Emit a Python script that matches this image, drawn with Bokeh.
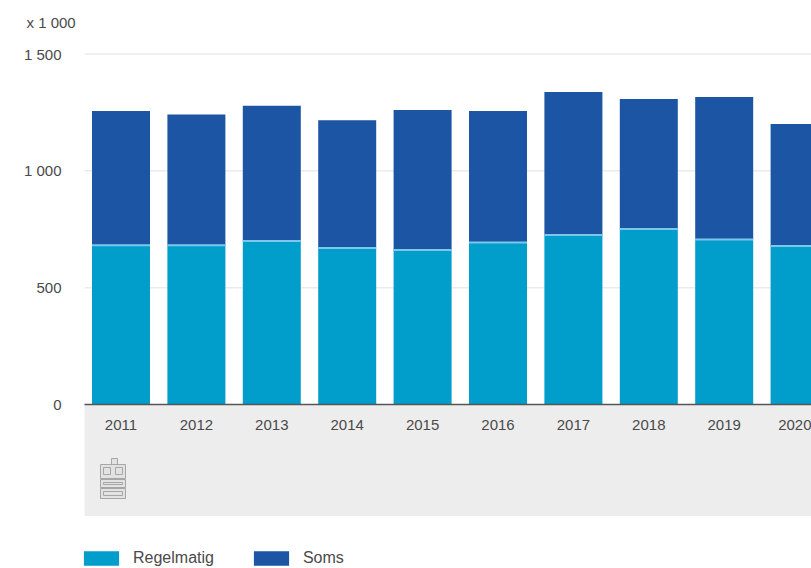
from bokeh.embed import file_html
from bokeh.models import BoxAnnotation, FixedTicker, Label, Legend, LegendItem, Range1d
from bokeh.plotting import figure
from bokeh.resources import INLINE

# Number of people (x 1 000) per year, split by how often they take part
years = [2011, 2012, 2013, 2014, 2015, 2016, 2017, 2018, 2019, 2020]
regelmatig = [682, 682, 700, 670, 661, 693, 725, 751, 706, 678]
soms = [574, 559, 579, 547, 599, 563, 612, 556, 610, 522]
y_ticks = [0, 500, 1000, 1500]
y_tick_labels = {0: "0", 500: "500", 1000: "1 000", 1500: "1 500"}
grid_values = [500, 1000, 1500]

TEAL = "#019dcb"
BLUE = "#1c55a3"
TEXT = "#4a4a4a"
FONT = "Liberation Sans"

WIDTH, HEIGHT = 811, 568
LEFT = 84
PANEL_BOTTOM = 515.5
ZERO_Y, FULL_Y = 404.0, 53.5
PX_PER_UNIT = (ZERO_Y - FULL_Y) / 1500
YEAR_STEP = 75.4
FIRST_YEAR_X = 120.5


def px_x(px):
    return years[0] + (px - FIRST_YEAR_X) / YEAR_STEP


def px_y(py):
    return (ZERO_Y - py) / PX_PER_UNIT


# The plot frame fills the whole page; axes, panel and legend are all placed inside it
x_range = Range1d(px_x(0), px_x(WIDTH))
y_range = Range1d(px_y(HEIGHT), px_y(0))

p = figure(width=WIDTH, height=HEIGHT, x_range=x_range, y_range=y_range,
           output_backend="svg", toolbar_location=None,
           min_border_left=0, min_border_right=0,
           min_border_top=0, min_border_bottom=0)
p.outline_line_color = None
p.background_fill_color = "white"
p.border_fill_color = "white"
p.grid.visible = False

# Grey panel below the baseline that holds the year labels and the logo
p.add_layout(BoxAnnotation(left=px_x(LEFT), top=0, bottom=px_y(PANEL_BOTTOM), fill_color="#ededed",
                           fill_alpha=1, line_color=None, level="underlay"))

# Horizontal axis sits on the zero line, labels fall inside the panel
p.xaxis.fixed_location = 0
p.xaxis.bounds = (px_x(LEFT), px_x(WIDTH))
p.xaxis.ticker = FixedTicker(ticks=years)
p.xaxis.axis_line_color = "#555555"
p.xaxis.axis_line_width = 1.5
p.xaxis.major_tick_line_color = None
p.xaxis.minor_tick_line_color = None
p.xaxis.major_label_standoff = 9
p.xaxis.major_label_text_font = FONT
p.xaxis.major_label_text_font_size = "15px"
p.xaxis.major_label_text_color = TEXT
p.xaxis.major_label_overrides = {y: str(y) for y in years}

p.yaxis.fixed_location = px_x(LEFT)
p.yaxis.ticker = FixedTicker(ticks=y_ticks)
p.yaxis.major_label_overrides = y_tick_labels
p.yaxis.axis_line_color = None
p.yaxis.major_tick_line_color = None
p.yaxis.minor_tick_line_color = None
p.yaxis.major_label_standoff = 17
p.yaxis.major_label_text_font = FONT
p.yaxis.major_label_text_font_size = "15px"
p.yaxis.major_label_text_color = TEXT

# Gridlines start at the panel's left edge, not at the page edge
p.segment(x0=[px_x(LEFT)] * len(grid_values), x1=[px_x(WIDTH)] * len(grid_values),
          y0=grid_values, y1=grid_values, line_color="#ebebeb", line_width=1.5)

BAR_WIDTH = 58 / YEAR_STEP
totals = [a + b for a, b in zip(regelmatig, soms)]
r_low = p.vbar(x=years, bottom=0, top=regelmatig, width=BAR_WIDTH, fill_color=TEAL, line_color=None)
r_high = p.vbar(x=years, bottom=regelmatig, top=totals, width=BAR_WIDTH, fill_color=BLUE, line_color=None)

# Thin light seam where the two stacked parts meet
half = BAR_WIDTH / 2
p.segment(x0=[y - half for y in years], x1=[y + half for y in years],
          y0=regelmatig, y1=regelmatig, line_color="#7cc8ea", line_width=2)

# Unit note above the vertical axis
p.add_layout(Label(x=px_x(26), y=px_y(22), text="x 1 000", text_baseline="middle",
                   text_font=FONT, text_font_size="15px", text_color=TEXT))

# Small clipboard-style logo in the panel
LOGO_LINE = "#a6a6a6"
LOGO_FILL = "#e2e2e2"
logo_parts = [(111, 117, 458, 465), (100, 125, 464, 478), (100, 125, 479, 487), (100, 125, 488, 498),
              (103, 110, 467, 474), (115, 122, 467, 474), (103, 122, 482, 484), (103, 122, 491, 495)]
for x0, x1, y0, y1 in logo_parts:
    p.quad(left=px_x(x0), right=px_x(x1), top=px_y(y0), bottom=px_y(y1),
           fill_color=LOGO_FILL, line_color=LOGO_LINE, line_width=1)

legend = Legend(items=[LegendItem(label="Regelmatig", renderers=[r_low]),
                       LegendItem(label="Soms", renderers=[r_high])],
                orientation="horizontal", location=(79, 1), margin=0, padding=0,
                spacing=35, glyph_width=44, glyph_height=18, label_standoff=10,
                label_text_font=FONT, label_text_font_size="16px", label_text_color=TEXT,
                border_line_color=None, background_fill_alpha=0,
                label_height=18)
p.add_layout(legend, "center")

open("out.html", "w").write(file_html(p, INLINE))
